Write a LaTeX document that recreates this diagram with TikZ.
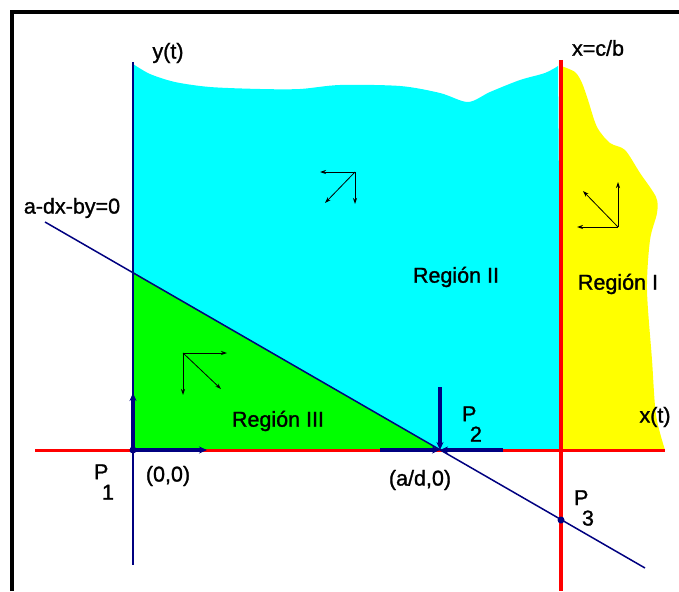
\documentclass[tikz,border=0pt]{standalone}
\usepackage{fontspec}
\setsansfont[FakeBold=1.2]{Liberation Sans}
\usetikzlibrary{arrows.meta}

\definecolor{navy}{RGB}{0,0,128}
\definecolor{aqua}{RGB}{0,255,255}
\definecolor{lime}{RGB}{0,255,0}
\definecolor{lemon}{RGB}{255,255,0}
\definecolor{redline}{RGB}{255,0,0}

\newcommand{\Pidx}[1]{P\kern-0.3em\raisebox{-0.95em}{#1}}

\begin{document}
\begin{tikzpicture}[x=1pt,y=-1pt,
  lbl/.style={font=\sffamily\fontsize{21.5}{24}\selectfont, inner sep=0pt},
  field/.style={-{Stealth[length=6pt,width=4pt]}, black, line width=0.8pt},
  flow/.style={-{Stealth[length=8pt,width=7pt]}, navy, line width=3.5pt}]

\useasboundingbox (0,0) rectangle (679,591);

% Frame
\draw[line width=3.5pt] (12,591) -- (12,12) -- (679,12);

% Key points
\coordinate (P1) at (133,450);
\coordinate (P2) at (440,450);
\coordinate (P3) at (561,520);
\coordinate (Q) at (133,272);

% Region II
\fill[aqua] (133,64) plot[smooth] coordinates {(133,64) (150,74) (175,82) (210,87) (260,89)
  (300,89) (340,85) (400,86) (440,93) (468,102) (490,92) (520,80) (545,73) (558,66)}
  -- (561,450) -- (P2) -- (Q) -- cycle;

% Region I
\fill[lemon] (561,66) plot[smooth] coordinates {(561,66) (575,72) (582,83) (588,100)
  (597,127) (610,143) (625,150) (640,173) (656,197) (657,213) (650,240) (647,290)
  (652,360) (656,415) (665,450)} -- (561,450) -- cycle;

% Region III
\fill[lime] (Q) -- (P1) -- (P2) -- cycle;

% Axes
\draw[redline, line width=3pt] (35,450) -- (665,450);
\draw[redline, line width=3.5pt] (561,60) -- (561,591);
\draw[navy, line width=2pt] (133,62) -- (133,565);

% Line a-dx-by=0
\draw[navy, line width=1.5pt] (45,222) -- (645,568);

% Flow at the equilibria
\draw[flow] (P1) -- (133,393);
\draw[flow] (P1) -- (207,450);
\draw[flow] (440,387) -- (P2);
\draw[flow] (380,450) -- (P2);
\draw[flow] (503,450) -- (P2);

% Points
\foreach \p in {P1,P3}
  \fill[navy] (\p) circle (3.5pt);

% Direction field
\foreach \cx/\cy/\hx/\vy/\dx/\dy in {355/172/320/204/325/203, 618/227/577/182/583/191, 183/353/227/395/221/389} {
  \draw[field] (\cx,\cy) -- (\hx,\cy);
  \draw[field] (\cx,\cy) -- (\cx,\vy);
  \draw[field] (\cx,\cy) -- (\dx,\dy);
}

% Labels
\node[lbl] (yt) at (168,53) {y(t)};
\node[lbl] (xt) at (655,417) {x(t)};
\node[lbl] (xcb) at (598,48) {x=c/b};
\node[lbl] (recta) at (72,208) {a-dx-by=0};
\node[lbl] (reg2) at (456,277) {Región II};
\node[lbl] (reg1) at (618,284) {Región I};
\node[lbl] (reg3) at (278,421) {Región III};
\node[lbl] (lp1) at (104,482) {\Pidx{1}};
\node[lbl] (lp2) at (472,424) {\Pidx{2}};
\node[lbl] (lp3) at (584,508) {\Pidx{3}};
\node[lbl] (orig) at (168,476) {(0,0)};
\node[lbl] (ad) at (420,480) {(a/d,0)};

\end{tikzpicture}
\end{document}
